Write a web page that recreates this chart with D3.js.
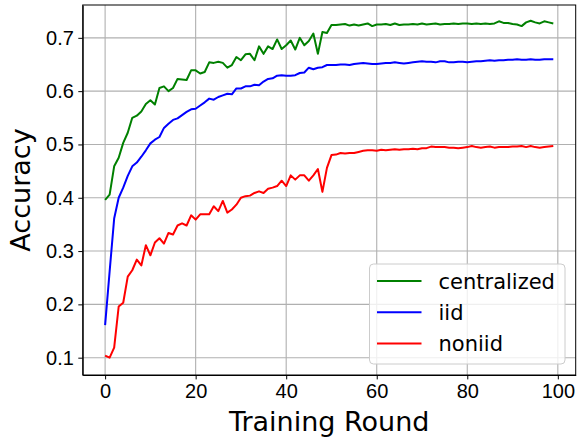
<!DOCTYPE html>
<html>
<head>
<meta charset="utf-8">
<script src="https://cdn.jsdelivr.net/npm/d3@7"></script>
<style>
  body { margin: 0; background: #fff; }
  svg { font-family: "DejaVu Sans", sans-serif; }
  .grid line { stroke: #b0b0b0; stroke-width: 1.1; }
  .axis path, .axis line { stroke: #000; stroke-width: 1; }
  .axis text { font-size: 20px; fill: #000; }
  .series { fill: none; stroke-width: 2; stroke-linejoin: round; }
  .label { font-size: 27px; fill: #000; }
  .legend text { font-size: 21px; fill: #000; }
</style>
</head>
<body>
<div id="chart"></div>
<script>
// accuracy per training round (index = round)
var centralized = [
  0.396, 0.406, 0.459, 0.475, 0.503, 0.522, 0.550, 0.554, 0.562, 0.576,
  0.583, 0.575, 0.606, 0.609, 0.600, 0.606, 0.623, 0.622, 0.621, 0.639,
  0.639, 0.633, 0.636, 0.654, 0.653, 0.655, 0.653, 0.644, 0.649, 0.664,
  0.658, 0.669, 0.670, 0.658, 0.684, 0.670, 0.684, 0.679, 0.697, 0.679,
  0.686, 0.695, 0.678, 0.700, 0.686, 0.694, 0.708, 0.670, 0.711, 0.709,
  0.724, 0.724, 0.725, 0.726, 0.723, 0.725, 0.723, 0.725, 0.727, 0.722,
  0.725, 0.725, 0.726, 0.724, 0.727, 0.724, 0.725, 0.725, 0.726, 0.725,
  0.727, 0.725, 0.726, 0.727, 0.725, 0.726, 0.726, 0.727, 0.726, 0.727,
  0.727, 0.726, 0.727, 0.726, 0.727, 0.726, 0.727, 0.731, 0.728, 0.728,
  0.726, 0.725, 0.722, 0.729, 0.732, 0.729, 0.727, 0.731, 0.729, 0.727
];
var iid = [
  0.161, 0.262, 0.361, 0.400, 0.419, 0.441, 0.459, 0.466, 0.477, 0.489,
  0.502, 0.509, 0.514, 0.531, 0.539, 0.546, 0.549, 0.555, 0.561, 0.566,
  0.567, 0.573, 0.579, 0.586, 0.584, 0.589, 0.592, 0.595, 0.594, 0.605,
  0.605, 0.609, 0.609, 0.612, 0.611, 0.618, 0.623, 0.624, 0.629, 0.630,
  0.629, 0.629, 0.630, 0.634, 0.635, 0.644, 0.641, 0.644, 0.645, 0.649,
  0.649, 0.649, 0.650, 0.650, 0.649, 0.651, 0.652, 0.653, 0.652, 0.651,
  0.651, 0.652, 0.653, 0.653, 0.654, 0.653, 0.652, 0.653, 0.654, 0.655,
  0.656, 0.655, 0.655, 0.654, 0.656, 0.656, 0.654, 0.654, 0.655, 0.655,
  0.654, 0.655, 0.656, 0.656, 0.657, 0.658, 0.657, 0.658, 0.658, 0.659,
  0.659, 0.660, 0.659, 0.659, 0.660, 0.659, 0.659, 0.660, 0.660, 0.660
];
var noniid = [
  0.104, 0.100, 0.119, 0.196, 0.203, 0.252, 0.264, 0.284, 0.273, 0.311,
  0.292, 0.316, 0.324, 0.314, 0.334, 0.331, 0.348, 0.352, 0.348, 0.367,
  0.359, 0.369, 0.369, 0.369, 0.384, 0.375, 0.394, 0.372, 0.378, 0.387,
  0.400, 0.403, 0.404, 0.409, 0.412, 0.409, 0.417, 0.419, 0.422, 0.432,
  0.422, 0.442, 0.434, 0.442, 0.442, 0.432, 0.442, 0.454, 0.411, 0.456,
  0.480, 0.481, 0.484, 0.483, 0.484, 0.484, 0.486, 0.488, 0.489, 0.489,
  0.488, 0.490, 0.489, 0.490, 0.491, 0.490, 0.491, 0.491, 0.492, 0.491,
  0.493, 0.493, 0.496, 0.495, 0.495, 0.495, 0.494, 0.494, 0.493, 0.494,
  0.495, 0.497, 0.495, 0.494, 0.495, 0.496, 0.494, 0.495, 0.495, 0.495,
  0.496, 0.496, 0.497, 0.495, 0.497, 0.495, 0.494, 0.495, 0.496, 0.497
];

var seriesNames = ["centralized", "iid", "noniid"],
    seriesColors = ["#008000", "#0000ff", "#ff0000"],
    xTicks = [0, 20, 40, 60, 80, 100],
    yTicks = [0.1, 0.2, 0.3, 0.4, 0.5, 0.6, 0.7];

var widthGlobal = 579,
    heightGlobal = 439,
    margin = {top: 5, right: 3.3, bottom: 64, left: 82.7},
    width = widthGlobal - margin.left - margin.right,
    height = heightGlobal - margin.top - margin.bottom,

    x = d3.scaleLinear()
        .domain([-4.95, 103.95])
        .range([0, width]),
    y = d3.scaleLinear()
        .domain([0.0675, 0.7616])
        .range([height, 0]),

    svg = d3.select("#chart")
        .append("svg")
        .attr("width", widthGlobal)
        .attr("height", heightGlobal),
    g = svg.append("g")
        .attr("transform", "translate(" + margin.left + "," + margin.top + ")");

// grid
g.append("g").attr("class", "grid").selectAll("line")
    .data(xTicks)
    .enter().append("line")
    .attr("x1", function (d) { return x(d); })
    .attr("x2", function (d) { return x(d); })
    .attr("y1", 0)
    .attr("y2", height);
g.append("g").attr("class", "grid").selectAll("line")
    .data(yTicks)
    .enter().append("line")
    .attr("x1", 0)
    .attr("x2", width)
    .attr("y1", function (d) { return y(d); })
    .attr("y2", function (d) { return y(d); });

// lines
var line = d3.line()
    .x(function (d, i) { return x(i); })
    .y(function (d) { return y(d); });

[centralized, iid, noniid].forEach(function (s, k) {
    g.append("path")
        .datum(s)
        .attr("class", "series")
        .attr("stroke", seriesColors[k])
        .attr("d", line);
});

// axes
g.append("g")
    .attr("class", "axis")
    .attr("transform", "translate(0," + height + ")")
    .call(d3.axisBottom(x).tickValues(xTicks).tickSize(4.4).tickPadding(4.4).tickSizeOuter(0));
g.append("g")
    .attr("class", "axis")
    .call(d3.axisLeft(y).tickValues(yTicks).tickFormat(d3.format(".1f")).tickSize(4.4).tickPadding(4.4).tickSizeOuter(0));

// frame
g.append("rect")
    .attr("width", width)
    .attr("height", height)
    .attr("fill", "none")
    .attr("stroke", "#000")
    .attr("stroke-width", 1);

// labels
svg.append("text")
    .attr("class", "label")
    .attr("text-anchor", "middle")
    .attr("x", margin.left + width / 2)
    .attr("y", 431)
    .text("Training Round");
svg.append("text")
    .attr("class", "label")
    .attr("text-anchor", "middle")
    .attr("transform", "translate(30," + (margin.top + height / 2) + ") rotate(-90)")
    .text("Accuracy");

// legend
var legend = svg.append("g")
    .attr("class", "legend")
    .attr("transform", "translate(369.5,264)");
legend.append("rect")
    .attr("width", 195.5)
    .attr("height", 100)
    .attr("rx", 4)
    .attr("fill", "#fff")
    .attr("fill-opacity", 0.8)
    .attr("stroke", "#cccccc")
    .attr("stroke-width", 1);
var entry = legend.selectAll(".entry")
    .data(seriesNames)
    .enter().append("g")
    .attr("class", "entry")
    .attr("transform", function (d, i) { return "translate(0," + (17 + i * 31.3) + ")"; });
entry.append("line")
    .attr("x1", 7.5)
    .attr("x2", 52)
    .attr("stroke", function (d, i) { return seriesColors[i]; })
    .attr("stroke-width", 2);
entry.append("text")
    .attr("x", 69)
    .attr("y", 7.5)
    .text(function (d) { return d; });
</script>
</body>
</html>
